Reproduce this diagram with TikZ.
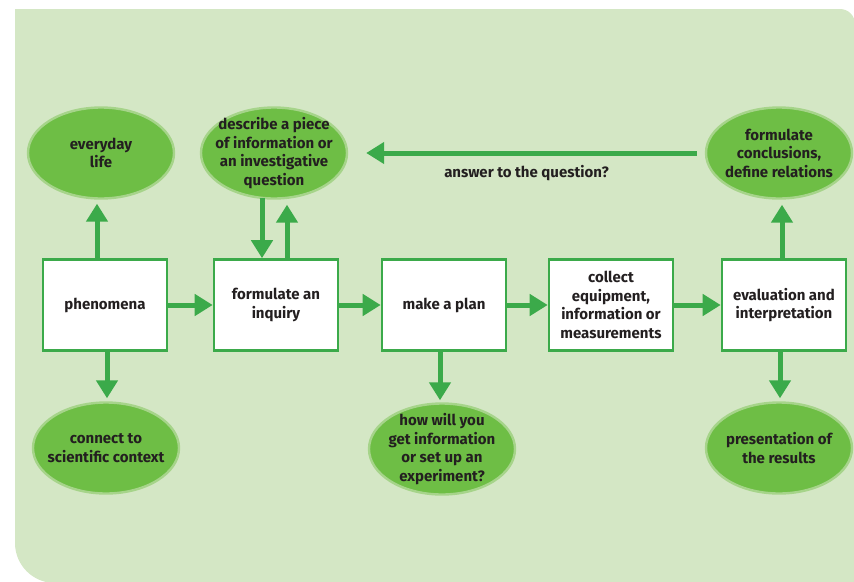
\documentclass[tikz,border=0pt]{standalone}
\usepackage{fontspec}
\setmainfont{Fira Sans}
\usetikzlibrary{shapes.geometric,arrows.meta,calc}
\definecolor{bgpanel}{HTML}{D4E7C5}
\definecolor{ovalfill}{HTML}{6EBE45}
\definecolor{ovalring}{HTML}{A6D48A}
\definecolor{flowgreen}{HTML}{3BAA4A}
\definecolor{inktext}{HTML}{231F20}
\begin{document}
\begin{tikzpicture}[x=1pt,y=-1pt,
  every node/.style={font=\fontsize{15}{18.5}\selectfont\bfseries, text=inktext, align=center},
  stepbox/.style={draw=flowgreen, line width=2.6pt, fill=white, minimum width=124pt, minimum height=91pt, inner sep=0pt},
  oval/.style={ellipse, draw=ovalring, line width=2.4pt, fill=ovalfill, minimum width=146pt, minimum height=91pt, inner xsep=-14pt, inner ysep=-12pt},
  flow/.style={draw=flowgreen, line width=5pt, -{Triangle[length=18pt,width=21pt]}},
  plain/.style={font=\fontsize{15}{18.5}\selectfont\bfseries}]
\useasboundingbox (0,0) rectangle (854,581);
% background panel (y axis points down, so arc angles are mirrored)
\fill[bgpanel] (15,9) -- (840,9) arc[start angle=270,end angle=360,radius=15] -- (855,583) -- (55,583)
  arc[start angle=90,end angle=180,radius=40] -- cycle;

% process boxes
\node[stepbox] (phen) at (105,305) {phenomena};
\node[stepbox] (inq) at (276,305) {formulate an\\inquiry};
\node[stepbox] (plan) at (444,305) {make a plan};
\node[stepbox] (coll) at (611,305) {collect\\equipment,\\information or\\measurements};
\node[stepbox] (eval) at (784,305) {evaluation and\\interpretation};

% ovals
\node[oval] (life) at (101,153) {everyday\\life};
\node[oval] (desc) at (274,153) {describe a piece\\of information or\\an investigative\\question};
\node[oval] (concl) at (779,153) {formulate\\conclusions,\\define relations};
\node[oval] (ctx) at (106,448) {connect to\\scientific context};
\node[oval] (how) at (442,449) {how will you\\get information\\or set up an\\experiment?};
\node[oval] (pres) at (779,448) {presentation of\\the results};

% main row
\draw[flow] (phen) -- (inq);
\draw[flow] (inq) -- (plan);
\draw[flow] (plan) -- (coll);
\draw[flow] (coll) -- (eval);

% vertical links
\draw[flow] ([xshift=-8pt]phen.north) -- ([xshift=-8pt,yshift=-4pt]phen.north |- life.south);
\draw[flow] ([xshift=2pt]phen.south) -- ([xshift=2pt,yshift=3pt]phen.south |- ctx.north);
\draw[flow] ([xshift=-14pt,yshift=2pt]inq.north |- desc.south) -- ([xshift=-14pt]inq.north);
\draw[flow] ([xshift=11pt]inq.north) -- ([xshift=11pt,yshift=-5pt]inq.north |- desc.south);
\draw[flow] ([xshift=-4pt]plan.south) -- ([xshift=-4pt,yshift=2pt]plan.south |- how.north);
\draw[flow] ([xshift=-2pt]eval.north) -- ([xshift=-2pt,yshift=-5pt]eval.north |- concl.south);
\draw[flow] ([xshift=-4pt]eval.south) -- ([xshift=-4pt,yshift=3pt]eval.south |- pres.north);

% feedback loop
\draw[flow, shorten <=8pt, shorten >=18pt] (concl.west) -- (desc.east)
  node[plain, pos=0.5, yshift=-20pt] (ans) {answer to the question?};
\end{tikzpicture}
\end{document}
